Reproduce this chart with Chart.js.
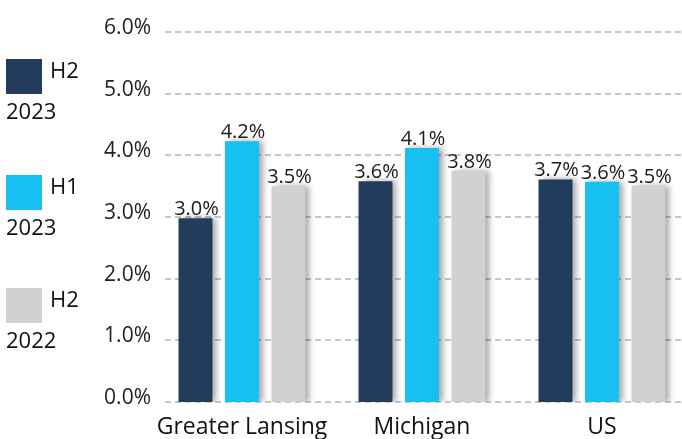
<!DOCTYPE html>
<html>
<head>
<meta charset="utf-8">
<script src="https://cdn.jsdelivr.net/npm/chart.js@4.4.1/dist/chart.umd.min.js"></script>
<style>
  html, body { margin: 0; padding: 0; background: #fff; overflow: hidden; width: 682px; height: 439px; }
  #wrap { position: relative; width: 700px; height: 439px; }
  #legend { position: absolute; left: 0; top: 0; font-family: 'Open Sans', sans-serif; color: #111; font-size: 22px; line-height: 22px; }
  .item { position: absolute; left: 6px; width: 120px; }
  .box { position: absolute; left: 0; top: 0; width: 36px; height: 35px; }
  .t1 { position: absolute; left: 44px; top: -1px; }
  .t2 { position: absolute; left: 0; top: 40px; }
</style>
</head>
<body>
<div id="wrap">
  <canvas id="chart" width="700" height="439"></canvas>
  <div id="legend"></div>
</div>
<script>
// ── Data ───────────────────────────────────────────────────────────────
const categories = ['Greater Lansing', 'Michigan', 'US'];
const seriesNames = [['H2', '2023'], ['H1', '2023'], ['H2', '2022']];
const seriesColors = ['#223c5c', '#16c0f1', '#d0d1d1'];
const h2_2023 = [2.98, 3.58, 3.61];
const h1_2023 = [4.23, 4.12, 3.57];
const h2_2022 = [3.50, 3.75, 3.51];
const h2_2023Labels = ['3.0%', '3.6%', '3.7%'];
const h1_2023Labels = ['4.2%', '4.1%', '3.6%'];
const h2_2022Labels = ['3.5%', '3.8%', '3.5%'];
const yTicks = [0, 1, 2, 3, 4, 5, 6];

const font = "'Open Sans', sans-serif";
const valueLabels = [h2_2023Labels, h1_2023Labels, h2_2022Labels];

// ── Legend (HTML, wrapped text) ────────────────────────────────────────
const legendTops = [59, 175, 288];
const legend = document.getElementById('legend');
seriesNames.forEach((n, i) => {
    const el = document.createElement('div');
    el.className = 'item';
    el.style.top = legendTops[i] + 'px';
    el.innerHTML = `<div class="box" style="background:${seriesColors[i]}"></div>` +
        `<div class="t1">${n[0]}</div><div class="t2">${n[1]}</div>`;
    legend.appendChild(el);
});

// dashed grid lines from the y scale, bar shadow, value labels
const dashedGrid = {
    id: 'dashedGrid',
    beforeDatasetsDraw(chart) {
        const { ctx, scales: { y }, chartArea } = chart;
        ctx.save();
        ctx.strokeStyle = '#c6c6c6';
        ctx.lineWidth = 2;
        ctx.setLineDash([6, 4]);
        y.ticks.forEach(t => {
            const py = Math.round(y.getPixelForValue(t.value));
            ctx.beginPath();
            ctx.moveTo(165, py);
            ctx.lineTo(chartArea.right + 10, py);
            ctx.stroke();
        });
        ctx.restore();
        ctx.save();
        ctx.shadowColor = 'rgba(0,0,0,0.35)';
        ctx.shadowBlur = 6;
        ctx.shadowOffsetX = 4;
        ctx.shadowOffsetY = 0;
    },
    afterDatasetsDraw(chart) {
        const { ctx } = chart;
        ctx.restore();
        ctx.save();
        ctx.font = `20px ${font}`;
        ctx.fillStyle = '#1a1a1a';
        ctx.textAlign = 'center';
        ctx.textBaseline = 'alphabetic';
        chart.data.datasets.forEach((ds, di) => {
            chart.getDatasetMeta(di).data.forEach((bar, i) => {
                ctx.fillText(valueLabels[di][i], bar.x + 1, bar.y - 3);
            });
        });
        ctx.restore();
    }
};

new Chart(document.getElementById('chart'), {
    type: 'bar',
    data: {
        labels: categories,
        datasets: [
            { label: 'H2 2023', data: h2_2023, backgroundColor: seriesColors[0] },
            { label: 'H1 2023', data: h1_2023, backgroundColor: seriesColors[1] },
            { label: 'H2 2022', data: h2_2022, backgroundColor: seriesColors[2] },
        ]
    },
    options: {
        responsive: false, animation: false,
        layout: { padding: { top: 32, right: 8, left: 0, bottom: 0 } },
        datasets: { bar: { categoryPercentage: 0.775, barPercentage: 0.73 } },
        plugins: { legend: { display: false }, tooltip: { enabled: false } },
        scales: {
            x: {
                grid: { display: false, drawTicks: false }, border: { display: false },
                ticks: { color: '#111', font: { family: font, size: 23 }, padding: 12 },
                afterFit: s => { s.height = 37; }
            },
            y: {
                min: 0, max: 6,
                grid: { display: false, drawTicks: false }, border: { display: false },
                afterBuildTicks: s => { s.ticks = yTicks.map(v => ({ value: v })); },
                ticks: { color: '#222', font: { family: font, size: 21 }, padding: 1, labelOffset: -4,
                         callback: v => Number(v).toFixed(1) + '%' },
                afterFit: s => { s.width = 152; }
            }
        }
    },
    plugins: [dashedGrid]
});
</script>
</body>
</html>
